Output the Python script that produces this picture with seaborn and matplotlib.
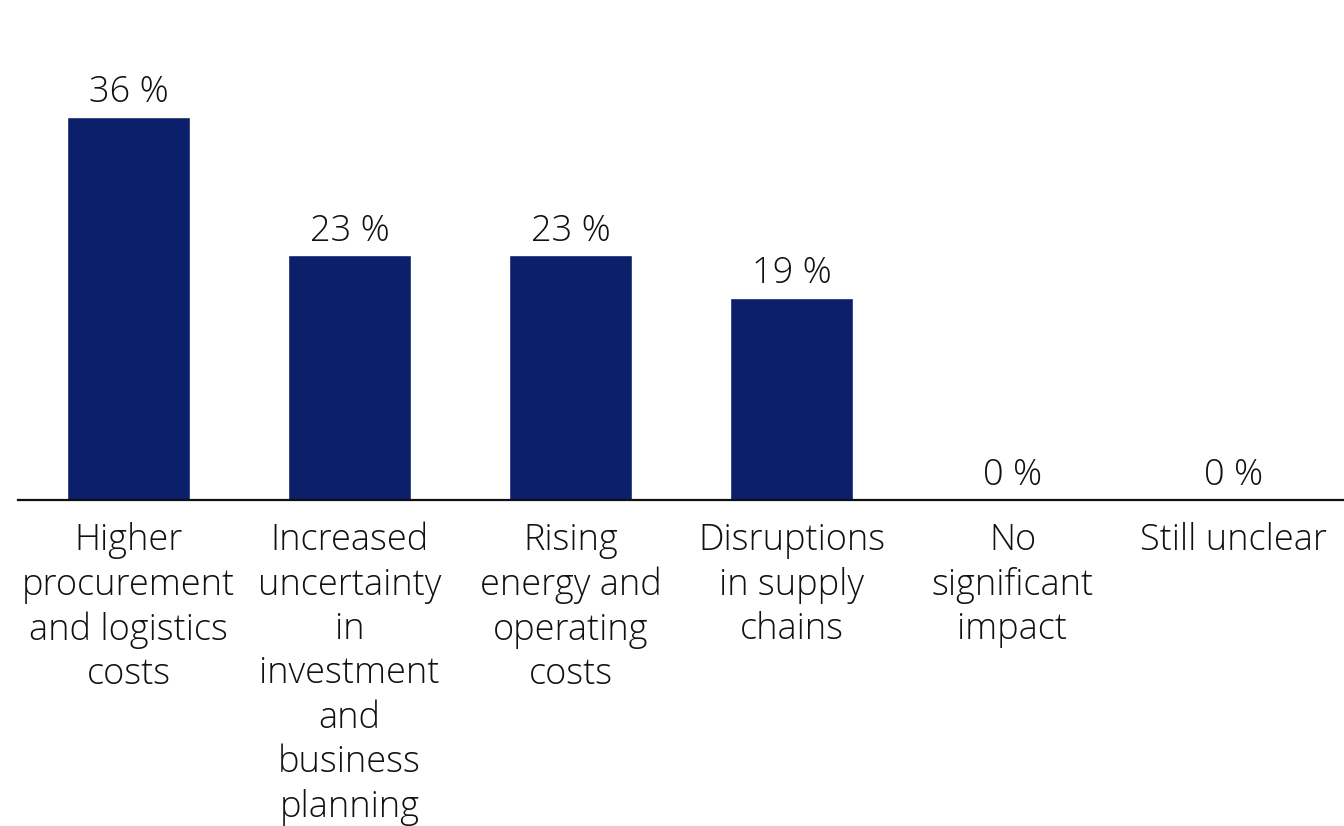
import matplotlib
matplotlib.use("Agg")
import matplotlib.pyplot as plt
import seaborn as sns
import pandas as pd

categories = [
    "Higher\nprocurement\nand logistics\ncosts",
    "Increased\nuncertainty\nin\ninvestment\nand\nbusiness\nplanning",
    "Rising\nenergy and\noperating\ncosts",
    "Disruptions\nin supply\nchains",
    "No\nsignificant\nimpact",
    "Still unclear",
]
values = [36, 23, 23, 19, 0, 0]

sns.set_theme(style="white")
plt.rcParams["font.family"] = ["Open Sans", "DejaVu Sans"]

df = pd.DataFrame({"category": categories, "share": values})

fig = plt.figure(figsize=(13.44, 8.26), dpi=100)
ax = fig.add_axes([18 / 1344, 326 / 826, 1326 / 1344, 500 / 826])

sns.barplot(data=df, x="category", y="share", color="#0b1f6a",
            saturation=1, width=0.56, ax=ax)

ax.bar_label(ax.containers[0], labels=[f"{v} %" for v in values],
             padding=4, fontsize=26, color="#111111", fontweight="light")

ax.set_xlim(-0.5, len(categories) - 0.5)
ax.set_ylim(0, 47)
ax.set_xlabel("")
ax.set_ylabel("")
ax.set_yticks([])
for side in ["top", "right", "left"]:
    ax.spines[side].set_visible(False)
ax.spines["bottom"].set_color("#111111")
ax.spines["bottom"].set_linewidth(1.6)
ax.tick_params(axis="x", length=0, pad=16, labelsize=26, colors="#111111")
for lbl in ax.get_xticklabels():
    lbl.set_linespacing(1.265)
    lbl.set_verticalalignment("top")
    lbl.set_fontweight("light")

fig.savefig("out.png", dpi=100, facecolor="white")
